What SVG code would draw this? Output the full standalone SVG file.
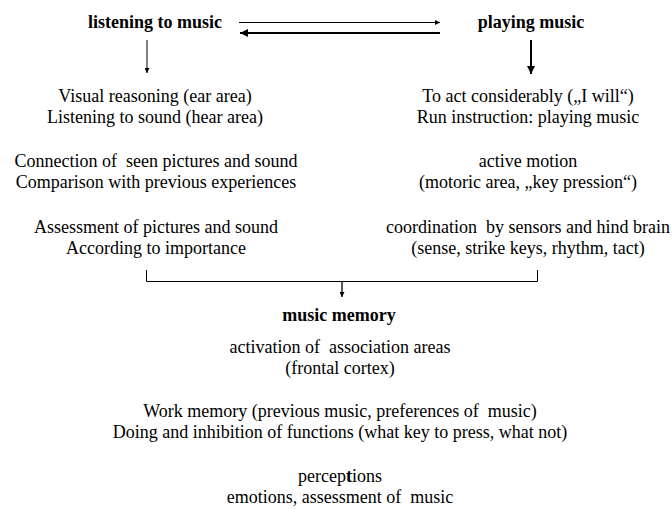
<svg xmlns="http://www.w3.org/2000/svg" width="672" height="509" viewBox="0 0 672 509">
<defs>
<style>
text{font-family:"Liberation Serif","Times New Roman",serif;fill:#000;text-anchor:middle}
.t{font-size:18px}
.b{font-size:18px;font-weight:bold}
.ln{stroke:#000;fill:none}
</style>
<marker id="ah" viewBox="0 0 10 10" refX="10" refY="5" markerWidth="5" markerHeight="5" markerUnits="userSpaceOnUse" orient="auto"><path d="M0,0L10,5L0,10z" fill="#000"/></marker>
<marker id="ah2" viewBox="0 0 10 10" refX="10" refY="5" markerWidth="4" markerHeight="4" orient="auto"><path d="M0,0L10,5L0,10z" fill="#000"/></marker>
</defs>
<rect width="672" height="509" fill="#fff"/>
<g id="connectors">
<line class="ln" x1="239" y1="22.5" x2="440" y2="22.5" stroke-width="1" marker-end="url(#ah)"/>
<line class="ln" x1="440" y1="33" x2="240" y2="33" stroke-width="2" marker-end="url(#ah2)"/>
<line class="ln" x1="147" y1="40" x2="147" y2="73" stroke-width="1" marker-end="url(#ah)"/>
<line class="ln" x1="531" y1="40" x2="531" y2="74" stroke-width="2" marker-end="url(#ah2)"/>
<polyline class="ln" points="146.5,270 146.5,281.5 537.5,281.5 537.5,270" stroke-width="1"/>
<line class="ln" x1="342" y1="281.5" x2="342" y2="297" stroke-width="1.3" marker-end="url(#ah)"/>
</g>
<g id="listening">
<text class="b" x="155" y="28">listening to music</text>
</g>
<g id="playing">
<text class="b" x="531" y="28">playing music</text>
</g>
<g id="left-steps">
<text class="t" x="155" y="102">Visual reasoning (ear area)</text>
<text class="t" x="155" y="123">Listening to sound (hear area)</text>
<text class="t" x="156" y="167" xml:space="preserve">Connection of  seen pictures and sound</text>
<text class="t" x="156" y="188">Comparison with previous experiences</text>
<text class="t" x="156" y="233">Assessment of pictures and sound</text>
<text class="t" x="156" y="254">According to importance</text>
</g>
<g id="right-steps">
<text class="t" x="528" y="102">To act considerably („I will“)</text>
<text class="t" x="528" y="123">Run instruction: playing music</text>
<text class="t" x="528" y="167">active motion</text>
<text class="t" x="528" y="188">(motoric area, „key pression“)</text>
<text class="t" x="528" y="233" xml:space="preserve">coordination  by sensors and hind brain</text>
<text class="t" x="528" y="254">(sense, strike keys, rhythm, tact)</text>
</g>
<g id="memory">
<text class="b" x="339" y="321">music memory</text>
</g>
<g id="memory-details">
<text class="t" x="340" y="353" xml:space="preserve">activation of  association areas</text>
<text class="t" x="340" y="374">(frontal cortex)</text>
<text class="t" x="340" y="417" xml:space="preserve">Work memory (previous music, preferences of  music)</text>
<text class="t" x="340" y="438">Doing and inhibition of functions (what key to press, what not)</text>
<text class="t" x="340" y="482">percep<tspan font-weight="bold">t</tspan>ions</text>
<text class="t" x="340" y="503" xml:space="preserve">emotions, assessment of  music</text>
</g>
</svg>
